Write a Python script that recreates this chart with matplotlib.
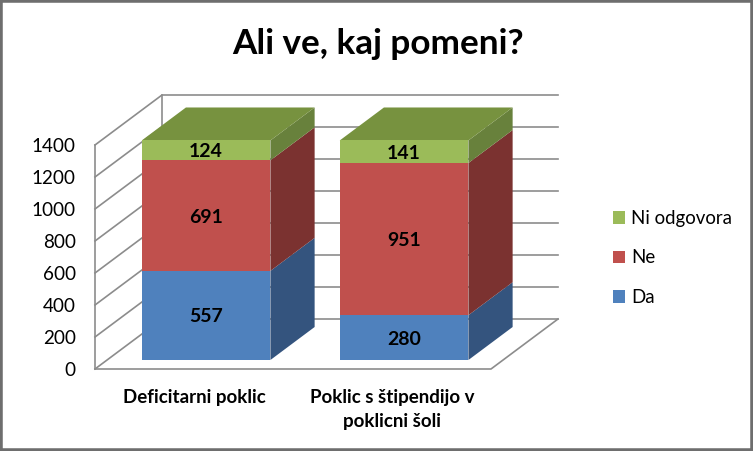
import matplotlib
matplotlib.use('Agg')
import matplotlib.pyplot as plt
from matplotlib.patches import Patch, Polygon, Rectangle

plt.rcParams['font.family'] = ['Lato', 'DejaVu Sans']

categories = ['Deficitarni poklic', 'Poklic s štipendijo v\npoklicni šoli']
series_names = ['Da', 'Ne', 'Ni odgovora']
da = [557, 280]
ne = [691, 951]
ni_odgovora = [124, 141]
yticks = [0, 200, 400, 600, 800, 1000, 1200, 1400]

front_colors = ['#4F81BD', '#C0504D', '#9BBB59']
side_colors = ['#34547E', '#7B3230', '#68813C']
top_color = '#77923F'
wall_color = '#8C8C8C'

W, H = 753, 451
fig = plt.figure(figsize=(W / 100, H / 100), dpi=100, facecolor='white')
# front plane of the box, in pixels: x 95..491, y 369..145
ax = fig.add_axes([95 / W, 1 - 369 / H, 396 / W, 224 / H])
ax.set_xlim(-0.5, 1.5)
ax.set_ylim(0, 1400)
ax.patch.set_visible(False)
for s in ax.spines.values():
    s.set_visible(False)

# depth of the box in data units
depth_x = 67 / 198
depth_y = 50 / 0.16
bar_width = 0.65
bar_front = 0.18
bar_back = 0.84


def proj(x, y, d):
    return (x + d * depth_x, y + d * depth_y)


# walls and floor
for v in yticks:
    pts = [proj(-0.5, v, 0), proj(-0.5, v, 1), proj(1.5, v, 1)]
    ax.plot([p[0] for p in pts], [p[1] for p in pts], color=wall_color, lw=1.2,
            clip_on=False, zorder=1, solid_joinstyle='miter')
wall = [proj(-0.5, 0, 0), proj(-0.5, 1400, 0)]
ax.plot([p[0] for p in wall], [p[1] for p in wall], color=wall_color, lw=1.2, clip_on=False, zorder=1)
wall = [proj(-0.5, 0, 1), proj(-0.5, 1400, 1)]
ax.plot([p[0] for p in wall], [p[1] for p in wall], color=wall_color, lw=1.2, clip_on=False, zorder=1)
floor = [proj(-0.5, 0, 0), proj(1.5, 0, 0), proj(1.5, 0, 1)]
ax.plot([p[0] for p in floor], [p[1] for p in floor], color=wall_color, lw=1.2, clip_on=False, zorder=1)

# stacked bars
bottoms = [0, 0]
for values, front, side in zip([da, ne, ni_odgovora], front_colors, side_colors):
    for i, val in enumerate(values):
        x0 = i - bar_width / 2
        x1 = i + bar_width / 2
        b = bottoms[i]
        t = b + val
        fx, fy = proj(x0, b, bar_front)
        ax.add_patch(Rectangle((fx, fy), bar_width, val, facecolor=front, edgecolor='none',
                               clip_on=False, zorder=3))
        ax.add_patch(Polygon([proj(x1, b, bar_front), proj(x1, t, bar_front),
                              proj(x1, t, bar_back), proj(x1, b, bar_back)],
                             facecolor=side, edgecolor='none', clip_on=False, zorder=2))
        cx, cy = proj(i, b + val / 2, bar_front)
        ax.text(cx, cy, str(val), ha='center', va='center_baseline', fontsize=14, fontweight='bold',
                color='black', zorder=5)
        bottoms[i] = t

for i, total in enumerate(bottoms):
    x0 = i - bar_width / 2
    x1 = i + bar_width / 2
    ax.add_patch(Polygon([proj(x0, total, bar_front), proj(x1, total, bar_front),
                          proj(x1, total, bar_back), proj(x0, total, bar_back)],
                         facecolor=top_color, edgecolor='none', clip_on=False, zorder=2))

ax.set_yticks(yticks)
ax.set_yticklabels([str(v) for v in yticks], fontsize=13.6, color='black')
ax.set_xticks([0, 1])
ax.set_xticklabels(categories, fontsize=13.5, fontweight='bold', color='black', linespacing=1.5)
ax.tick_params(axis='y', length=0, pad=14)
ax.tick_params(axis='x', length=0, pad=14.5)

fig.text(378.5 / W, 1 - 44 / H, 'Ali ve, kaj pomeni?', ha='center', va='center', fontsize=25.3,
         fontweight='bold', color='black')

handles = [Patch(facecolor=c, edgecolor='none') for c in front_colors]
fig.legend(handles[::-1], series_names[::-1], loc='center left',
           bbox_to_anchor=(596 / W, 1 - 258 / H), frameon=False, fontsize=13.4,
           handlelength=0.65, handleheight=0.65, handletextpad=0.35, labelspacing=1.2)

# chart border
fig.add_artist(Rectangle((0, 0), 1, 1, transform=fig.transFigure, facecolor='none',
                         edgecolor='#6E6E6E', lw=4))

fig.savefig('out.png', dpi=100)
